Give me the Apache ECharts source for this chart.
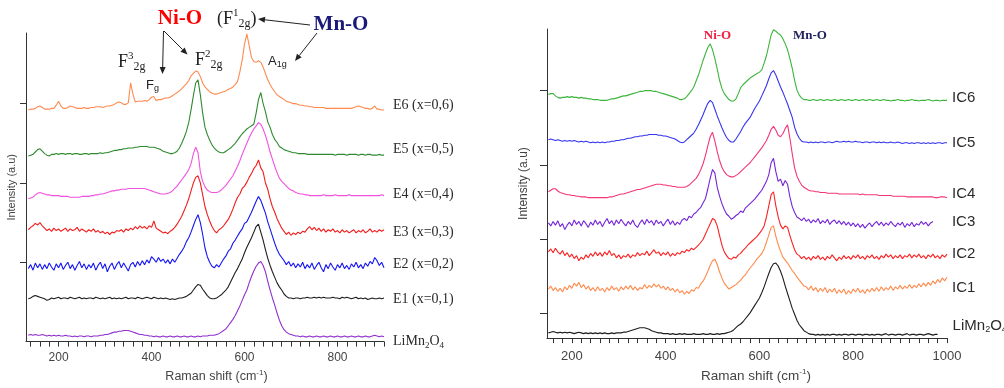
<!DOCTYPE html>
<html><head><meta charset="utf-8">
<script src="https://cdn.jsdelivr.net/npm/echarts@6/dist/echarts.min.js"></script>
<style>html,body{margin:0;padding:0;background:#fff}#c{width:1004px;height:388px}</style>
</head><body><div id="c"></div>
<script>
// ---------- LEFT PANEL (E series) ----------
const leftShift = [
135,140,145,150,155,160,165,170,175,180,
185,190,195,200,205,210,215,220,225,230,
235,240,245,250,255,260,265,270,275,280,
285,290,295,300,305,310,315,320,325,330,
335,340,345,350,355,360,365,370,375,380,
385,390,395,400,405,410,415,420,425,430,
435,440,445,450,455,460,465,470,475,480,
485,490,495,500,505,510,515,520,525,530,
535,540,545,550,555,560,565,570,575,580,
585,590,595,600,605,610,615,620,625,630,
635,640,645,650,655,660,665,670,675,680,
685,690,695,700,705,710,715,720,725,730,
735,740,745,750,755,760,765,770,775,780,
785,790,795,800,805,810,815,820,825,830,
835,840,845,850,855,860,865,870,875,880,
885,890,895,900];
const E6 = [
292,293,293,294,296,297,295,293,293,293,
294,294,298,303,297,294,294,295,297,296,
295,294,294,294,295,294,294,295,295,296,
296,296,295,296,297,297,298,299,301,302,
301,299,299,301,326,312,302,303,303,303,
304,303,305,308,309,304,305,305,306,307,
307,308,310,312,314,316,319,322,325,329,
335,338,341,340,334,326,321,318,315,313,
312,312,313,314,315,316,318,319,321,324,
328,340,355,375,388,373,358,353,352,354,
352,346,338,330,324,319,315,311,309,307,
305,303,302,301,300,300,299,298,298,297,
297,296,296,295,295,295,295,295,294,294,
294,294,294,294,294,294,294,294,294,294,
295,296,297,296,295,294,294,293,294,297,
293,293,292,292];
const E5 = [
234,235,236,239,242,243,240,237,235,234,
236,236,237,236,237,237,236,237,237,236,
237,237,236,236,237,237,236,237,237,237,
237,238,237,238,238,239,240,241,241,242,
242,243,243,244,244,244,245,245,246,246,
246,246,245,245,245,244,243,242,240,239,
238,237,237,238,240,244,250,257,265,276,
292,310,326,330,311,288,270,261,254,248,
244,241,239,238,238,240,242,244,247,250,
254,258,262,265,268,270,272,274,288,305,
314,300,290,277,270,261,255,251,246,244,
242,241,240,239,238,238,237,237,237,237,
236,236,236,236,236,236,236,236,236,236,
236,236,235,236,236,236,236,235,236,236,
236,236,235,236,236,235,236,236,235,235,
235,236,235,235];
const E4 = [
180,181,182,185,187,188,187,186,185,185,
184,184,184,184,183,183,183,183,182,182,
182,182,182,183,183,183,183,184,184,185,
185,186,186,187,188,189,190,190,191,191,
192,192,192,193,193,193,193,193,193,193,
193,192,191,190,189,188,187,186,186,186,
187,188,190,193,196,200,204,208,212,217,
224,237,245,238,214,202,195,191,189,188,
188,188,189,191,194,197,201,205,209,215,
221,228,236,243,250,257,263,268,272,276,
274,268,260,250,239,230,221,213,206,202,
199,196,193,191,190,188,187,186,186,185,
185,184,184,184,184,184,184,185,184,184,
184,184,185,184,184,184,184,184,185,184,
184,184,184,184,184,184,184,184,184,184,
184,184,185,184];
const E3 = [
141,144,146,149,147,150,146,143,140,142,
139,143,140,142,139,141,143,139,142,140,
141,144,139,142,140,138,141,139,142,138,
140,137,139,136,138,135,138,137,140,139,
141,138,142,140,143,141,145,142,146,143,
145,142,146,144,152,143,141,139,137,138,
136,139,141,144,148,153,158,165,172,180,
190,200,207,209,200,185,170,160,152,145,
140,137,141,143,146,150,154,160,167,175,
182,186,193,196,201,207,212,218,222,229,
219,214,200,192,180,170,163,155,149,143,
139,135,138,134,137,135,138,136,139,138,
142,145,141,144,140,143,139,142,138,141,
139,142,138,140,137,141,138,140,137,139,
141,137,140,138,141,137,139,142,138,140,
138,141,139,141];
const E2 = [
92,97,90,99,93,98,91,97,92,99,
94,90,98,93,99,91,96,100,92,97,
90,96,101,93,98,91,97,93,99,90,
96,100,92,98,88,95,99,91,97,101,
93,99,94,89,97,100,94,101,96,102,
97,103,99,107,104,100,106,101,104,99,
103,98,104,100,105,110,114,119,126,131,
138,146,154,160,150,135,118,107,100,95,
93,97,94,99,104,108,114,117,124,128,
133,138,142,149,151,157,163,170,177,183,
178,170,162,151,142,133,124,116,110,106,
102,97,101,95,99,93,98,94,100,92,
97,93,99,91,96,100,93,88,97,92,
99,94,90,97,93,99,92,96,91,98,
94,100,93,97,92,99,95,101,98,106,
102,96,100,93];
const E1 = [
54,55,57,58,57,56,55,54,52,53,
55,54,55,56,54,55,55,54,56,55,
54,55,56,54,55,54,55,55,54,56,
55,54,55,54,55,56,54,55,54,55,
54,55,56,54,55,55,54,56,55,54,
55,56,55,54,56,55,54,55,54,55,
54,53,54,53,54,55,55,56,57,59,
61,65,69,72,71,66,62,58,55,54,
54,55,57,59,62,65,69,75,81,87,
92,98,104,112,119,125,131,138,145,148,
138,128,116,105,96,88,81,74,69,65,
60,57,55,55,54,55,55,54,55,55,
56,55,55,56,55,56,55,56,55,55,
55,56,55,55,54,56,55,56,55,54,
55,56,54,55,54,55,53,54,55,54,
54,55,54,55];
const LMO_L = [
8,9,8,9,8,8,9,8,7,8,
7,8,7,8,7,7,8,7,7,6,
7,6,7,7,6,7,7,6,7,7,
7,8,8,9,9,10,11,12,12,13,
13,14,14,14,13,12,11,10,9,9,
8,8,7,7,6,7,6,6,7,6,
6,7,6,6,7,6,6,7,6,6,
7,6,6,7,6,7,7,7,8,8,
8,9,10,12,14,16,20,24,28,33,
39,45,52,59,65,74,82,89,95,99,
101,96,88,76,65,55,46,36,27,20,
15,12,10,9,8,7,7,6,7,6,
6,7,6,6,7,6,6,7,6,6,
7,6,6,7,6,6,7,6,6,7,
6,6,7,6,6,7,6,6,7,8,
7,6,7,6];
const leftXLabels = [200,400,600,800];
const leftXTicks = [140,160,180,200,220,240,260,280,300,320,340,360,380,400,420,440,460,480,500,520,540,560,580,600,620,640,660,680,700,720,740,760,780,800,820,840,860,880,900];
const leftYTicks = [100,200,300];

// ---------- RIGHT PANEL (IC series) ----------
const rightShift = [
150,155,160,165,170,175,180,185,190,195,
200,205,210,215,220,225,230,235,240,245,
250,255,260,265,270,275,280,285,290,295,
300,305,310,315,320,325,330,335,340,345,
350,355,360,365,370,375,380,385,390,395,
400,405,410,415,420,425,430,435,440,445,
450,455,460,465,470,475,480,485,490,495,
500,505,510,515,520,525,530,535,540,545,
550,555,560,565,570,575,580,585,590,595,
600,605,610,615,620,625,630,635,640,645,
650,655,660,665,670,675,680,685,690,695,
700,705,710,715,720,725,730,735,740,745,
750,755,760,765,770,775,780,785,790,795,
800,805,810,815,820,825,830,835,840,845,
850,855,860,865,870,875,880,885,890,895,
900,905,910,915,920,925,930,935,940,945,
950,955,960,965,970,975,980,985,990,995,
1000];
const IC6 = [
395,396,396,393,391,390,391,391,392,391,
392,391,391,390,391,390,390,389,389,388,
388,388,387,387,387,387,388,389,389,390,
391,392,393,393,394,395,396,397,398,399,
399,400,400,400,400,399,399,398,397,396,
395,394,393,392,391,390,388,388,389,392,
396,400,405,413,421,431,441,450,458,463,
455,443,429,414,403,396,392,388,386,386,
389,396,404,408,411,414,417,419,421,423,
425,428,437,447,461,475,482,480,477,475,
470,463,455,443,430,414,401,394,390,388,
388,387,387,388,387,387,388,387,387,388,
387,387,388,387,387,388,387,387,388,387,
387,388,387,387,388,387,387,388,387,387,
388,387,387,388,387,387,386,387,387,388,
387,387,386,387,387,388,387,387,386,387,
387,387,388,387,386,387,387,386,387,387,
387];
const IC5 = [
334,335,334,333,334,333,332,333,332,333,
332,333,332,331,332,331,332,331,330,331,
330,331,330,331,330,331,331,332,332,333,
333,334,334,335,336,336,337,338,338,339,
339,340,340,341,341,341,341,340,340,339,
339,338,337,336,335,333,331,330,331,334,
337,340,343,348,354,361,368,376,383,387,
384,375,366,358,350,343,337,333,331,331,
335,340,345,351,356,360,364,370,376,381,
386,393,400,407,416,424,427,421,413,405,
398,390,382,373,364,351,342,336,332,331,
331,330,331,330,331,330,331,331,330,331,
331,330,331,332,331,331,332,331,332,331,
331,332,331,331,330,331,331,330,331,331,
330,331,330,331,330,330,331,330,330,331,
330,329,330,330,329,330,329,330,330,329,
330,329,330,329,330,329,330,330,329,330,
330];
const IC4 = [
264,266,268,268,265,263,262,261,260,260,
259,259,258,258,257,257,257,256,256,256,
256,256,256,256,256,256,257,257,258,259,
260,261,261,262,263,264,265,266,267,267,
268,269,270,271,272,273,274,274,274,273,
273,272,272,271,271,270,270,270,270,271,
273,276,279,282,287,294,302,313,326,338,
344,332,318,306,297,291,287,285,284,284,
286,288,291,294,297,300,303,307,311,315,
319,323,328,333,340,348,352,347,340,338,
342,349,354,336,315,296,285,278,273,270,
268,266,265,265,264,264,263,263,263,262,
262,262,262,262,261,261,261,261,261,261,
261,261,261,260,261,260,260,260,260,260,
260,259,259,259,259,259,259,258,258,258,
258,258,258,257,257,257,257,257,257,257,
257,257,257,257,257,256,256,257,257,257,
256];
const IC3 = [
222,218,224,219,225,217,221,213,219,223,
218,226,220,224,218,225,221,216,223,219,
226,220,224,217,223,228,221,225,219,226,
221,227,222,218,224,220,226,219,216,222,
226,220,227,222,225,219,226,221,224,218,
223,227,220,225,219,223,220,226,228,225,
231,229,234,236,240,243,249,255,268,282,
294,289,270,258,248,240,234,231,227,229,
232,234,238,236,242,245,248,251,254,258,
262,266,272,278,287,303,309,291,278,281,
272,279,274,257,244,236,230,228,225,229,
224,227,222,226,223,228,221,225,222,227,
220,224,226,221,225,220,224,219,223,218,
222,217,221,216,220,215,219,222,217,221,
224,219,223,218,222,219,224,220,217,222,
219,223,216,221,218,223,217,221,219,224,
220,223,218,222,224,null,null,null,null,null,
null];
const IC2 = [
183,187,182,188,183,180,185,178,182,176,
180,174,178,171,176,173,179,175,181,177,
183,178,182,177,183,179,185,178,181,175,
179,174,178,176,180,175,179,177,182,178,
181,179,184,178,182,186,181,183,178,182,
179,183,177,181,178,182,180,184,182,186,
184,188,186,189,192,196,200,207,214,221,
228,226,218,205,192,183,178,174,173,176,
175,179,181,185,188,192,195,198,201,204,
208,212,218,230,245,260,264,245,230,219,
214,218,216,205,195,186,180,178,174,177,
173,176,172,177,174,178,173,176,172,177,
174,179,175,171,176,173,178,174,177,173,
178,175,179,174,177,173,178,175,179,174,
177,173,178,175,180,176,179,174,178,175,
179,174,178,176,180,175,179,176,180,175,
178,174,179,176,180,175,178,174,179,176,
180];
const IC1 = [
133,137,131,135,130,134,129,136,132,138,
134,141,137,142,135,139,133,137,131,135,
130,136,131,134,129,135,131,137,132,135,
130,136,132,137,133,138,132,136,131,135,
133,139,134,138,135,140,136,139,134,137,
132,136,131,134,129,133,128,131,126,130,
127,132,130,135,134,140,144,150,157,165,
171,173,166,156,148,141,137,133,135,137,
139,142,145,149,152,157,161,165,169,174,
177,181,187,196,206,216,218,204,193,184,
176,172,168,163,158,154,149,145,141,137,
136,132,137,131,135,129,134,130,135,128,
133,129,134,127,132,128,133,126,131,127,
133,129,134,128,132,127,133,129,134,130,
135,130,136,131,135,132,137,131,136,133,
138,133,137,134,139,134,138,135,140,136,
141,137,142,138,144,140,146,142,148,144,
149];
const LMO_R = [
74,75,76,75,74,75,74,75,74,75,
74,73,74,75,74,73,74,73,74,73,
74,73,74,73,74,73,73,74,73,74,
74,74,75,75,76,77,78,79,80,81,
81,81,80,79,77,76,75,74,74,73,
73,73,72,73,72,72,73,72,73,72,
72,72,73,72,72,72,73,72,72,73,
72,72,73,72,73,73,74,75,76,78,
81,84,86,89,93,97,101,106,111,116,
121,128,136,145,154,162,167,168,164,157,
148,137,127,117,107,99,91,85,81,77,
75,73,72,72,71,72,71,72,71,72,
71,72,72,71,72,71,72,72,71,72,
72,71,72,72,71,72,72,71,72,71,
72,72,71,72,73,71,72,72,71,72,
72,71,72,73,71,72,72,71,72,72,
71,72,73,72,71,72,72,null,null,null,
null];
const rightXLabels = [200,400,600,800,1000];
const rightXTicks = [160,180,200,220,240,260,280,300,320,340,360,380,400,420,440,460,480,500,520,540,560,580,600,620,640,660,680,700,720,740,760,780,800,820,840,860,880,900,920,940,960,980,1000];
const rightYTicks = [100,200,300,400];

const leftNames = ['E6 (x=0,6)','E5 (x=0,5)','E4 (x=0,4)','E3 (x=0,3)','E2 (x=0,2)','E1 (x=0,1)','LiMn2O4'];
const rightNames = ['IC6','IC5','IC4','IC3','IC2','IC1','LiMn2O4'];

// ---------- build ----------
const serif = 'Liberation Serif', sans = 'Liberation Sans';
function pairs(xs, ys){ const d=[]; for(let i=0;i<xs.length;i++){ if(ys[i]!=null) d.push([xs[i], ys[i]]); } return d; }
function labelText(name){
  if(name==='LiMn2O4') return '{n|LiMn}{s|2}{n|O}{s|4}';
  return '{n|'+name+'}';
}
function mk(idx, name, xs, ys, color, lab){
  const fam = idx===0 ? serif : sans;
  const fs = idx===0 ? 14 : 15;
  return {
    type:'line', xAxisIndex:idx, yAxisIndex:idx, data:pairs(xs, ys),
    showSymbol:false, symbol:'none', silent:true, animation:false,
    lineStyle:{color:color, width:1.1}, itemStyle:{color:color},
    endLabel:{
      show:true, distance:lab.d, padding:lab.p,
      formatter:()=>labelText(name),
      rich:{
        n:{fontFamily:fam, fontSize:fs, color:'#2a2a2a', lineHeight:18},
        s:{fontFamily:fam, fontSize:9, color:'#2a2a2a', lineHeight:9, verticalAlign:'bottom'}
      }
    }
  };
}
const series = [
  mk(0, leftNames[0], leftShift, E6, '#FF8A50', {d:9, p:[0,0,10,0]}),
  mk(0, leftNames[1], leftShift, E5, '#2F8A2F', {d:9, p:[0,0,12,0]}),
  mk(0, leftNames[2], leftShift, E4, '#F252E0', {d:9, p:[0,0,2,0]}),
  mk(0, leftNames[3], leftShift, E3, '#F21C1C', {d:9, p:[6,0,0,0]}),
  mk(0, leftNames[4], leftShift, E2, '#1515F5', {d:9, p:[0,0,6,0]}),
  mk(0, leftNames[5], leftShift, E1, '#1E1E1E', {d:9, p:[2,0,0,0]}),
  mk(0, leftNames[6], leftShift, LMO_L, '#9030D0', {d:9, p:[8,0,0,0]}),
  mk(1, rightNames[0], rightShift, IC6, '#3DB53D', {d:5, p:[0,0,4,0]}),
  mk(1, rightNames[1], rightShift, IC5, '#3535F0', {d:5, p:[0,0,0,0]}),
  mk(1, rightNames[2], rightShift, IC4, '#F5357A', {d:5, p:[0,0,8,0]}),
  mk(1, rightNames[3], rightShift, IC3, '#7425D8', {d:19, p:[0,0,0,0]}),
  mk(1, rightNames[4], rightShift, IC2, '#FA2222', {d:5, p:[0,0,0,0]}),
  mk(1, rightNames[5], rightShift, IC1, '#FF8A4A', {d:5, p:[22,0,0,0]}),
  mk(1, rightNames[6], rightShift, LMO_R, '#1E1E1E', {d:15, p:[0,0,18,0]})
];

function xAxisCfg(idx, min, max, labels, ticks, fs, margin, gap, pad){
  return {
    type:'value', gridIndex:idx, min:min, max:max,
    axisLine:{show:true, onZero:false, lineStyle:{color:'#333', width:1}},
    axisTick:{show:true, inside:false, length:5, customValues:ticks, lineStyle:{color:'#333'}},
    axisLabel:{show:true, customValues:labels, margin:margin, fontFamily:sans, fontSize:fs, color:'#444',
      formatter:(v)=>String(v)},
    splitLine:{show:false},
    name:'{a|Raman shift (cm}{s|-1}{a|)}', nameLocation:'middle', nameGap:gap,
    nameTextStyle:{padding:pad, rich:{
      a:{fontFamily:sans, fontSize:fs+0.5, color:'#444', lineHeight:16},
      s:{fontFamily:sans, fontSize:8, color:'#444', lineHeight:8, verticalAlign:'top'}
    }}
  };
}
function yAxisCfg(idx, min, max, ticks, fs, gap){
  return {
    type:'value', gridIndex:idx, min:min, max:max,
    axisLine:{show:true, onZero:false, lineStyle:{color:'#333', width:1}},
    axisTick:{show:true, inside:false, length:idx===0?6:7, customValues:ticks, lineStyle:{color:'#333'}},
    axisLabel:{show:false},
    splitLine:{show:false},
    name:'Intensity (a.u)', nameLocation:'middle', nameGap:gap, nameRotate:90,
    nameTextStyle:{fontFamily:sans, fontSize:fs, color:'#444'}
  };
}

const supRich = {
  n:{fontFamily:serif, fontSize:18, lineHeight:22, fill:'#222'},
  p:{fontFamily:serif, fontSize:11, lineHeight:10, verticalAlign:'top', fill:'#222'},
  b:{fontFamily:serif, fontSize:12, lineHeight:12, verticalAlign:'bottom', fill:'#222'}
};
const sansRich = {
  n:{fontFamily:sans, fontSize:13, lineHeight:16, fill:'#222'},
  b:{fontFamily:sans, fontSize:9, lineHeight:9, verticalAlign:'bottom', fill:'#222'}
};
function arrow(x1,y1,x2,y2){
  const dx=x2-x1, dy=y2-y1, L=Math.sqrt(dx*dx+dy*dy), ux=dx/L, uy=dy/L;
  const bx=x2-7*ux, by=y2-7*uy, px=-uy*3, py=ux*3;
  return [
    {type:'line', shape:{x1:x1,y1:y1,x2:bx,y2:by}, style:{stroke:'#222', lineWidth:1}, silent:true},
    {type:'polygon', shape:{points:[[x2,y2],[bx+px,by+py],[bx-px,by-py]]}, style:{fill:'#222'}, silent:true}
  ];
}
const graphic = [
  {type:'text', x:180, y:19, silent:true, style:{text:'Ni-O', fill:'#FF0000', fontFamily:serif, fontSize:21, fontWeight:'bold', align:'center', verticalAlign:'middle'}},
  {type:'text', x:341, y:25, silent:true, style:{text:'Mn-O', fill:'#1A1A78', fontFamily:serif, fontSize:21, fontWeight:'bold', align:'center', verticalAlign:'middle'}},
  {type:'text', x:217, y:19, silent:true, style:{text:'{n|(F}{p|1}{b|2g}{n|)}', rich:supRich, align:'left', verticalAlign:'middle'}},
  {type:'text', x:118, y:62, silent:true, style:{text:'{n|F}{p|3}{b|2g}', rich:supRich, align:'left', verticalAlign:'middle'}},
  {type:'text', x:195, y:60, silent:true, style:{text:'{n|F}{p|2}{b|2g}', rich:supRich, align:'left', verticalAlign:'middle'}},
  {type:'text', x:146, y:85, silent:true, style:{text:'{n|F}{b|g}', rich:sansRich, align:'left', verticalAlign:'middle'}},
  {type:'text', x:268, y:61, silent:true, style:{text:'{n|A}{b|1g}', rich:sansRich, align:'left', verticalAlign:'middle'}},
  {type:'text', x:717.5, y:36, silent:true, style:{text:'Ni-O', fill:'#F02040', fontFamily:serif, fontSize:13, fontWeight:'bold', align:'center', verticalAlign:'middle'}},
  {type:'text', x:810, y:36, silent:true, style:{text:'Mn-O', fill:'#22225E', fontFamily:serif, fontSize:13, fontWeight:'bold', align:'center', verticalAlign:'middle'}}
].concat(arrow(163.5,31,162.5,74), arrow(164,31,187.5,54.5), arrow(310,25,258,19), arrow(317,33,295,61));

const chart = echarts.init(document.getElementById('c'), null, {renderer:'canvas'});
chart.setOption({
  animation:false,
  backgroundColor:'#ffffff',
  grid:[
    {left:26, top:33, width:358, height:317, containLabel:false},
    {left:547, top:29, width:400, height:317, containLabel:false}
  ],
  xAxis:[
    xAxisCfg(0, 130, 900, leftXLabels, leftXTicks, 12, 10, 22, [0,0,0,23]),
    xAxisCfg(1, 147, 1000, rightXLabels, rightXTicks, 13, 12, 24, [0,0,0,18])
  ],
  yAxis:[
    yAxisCfg(0, 0, 389, leftYTicks, 11, 9),
    yAxisCfg(1, 67, 483, rightYTicks, 12, 17)
  ],
  series:series,
  graphic:graphic
});
</script>
</body></html>
